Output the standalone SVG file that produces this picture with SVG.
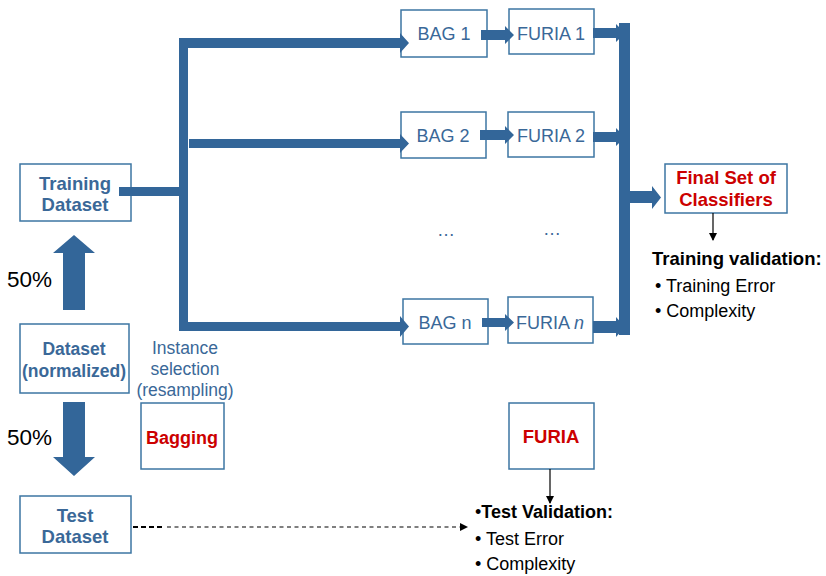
<svg xmlns="http://www.w3.org/2000/svg" width="826" height="576" viewBox="0 0 826 576">
  <style>
    .box { fill: #ffffff; stroke: #3c76a3; stroke-width: 1.5; }
    .bar { fill: #336699; }
    .t { font-family: "Liberation Sans", Arial, sans-serif; font-size: 18px; }
    .blue { fill: #3a6898; }
    .bb { fill: #3a6898; font-weight: bold; font-size: 18.5px; }
    .red { fill: #cc0000; font-weight: bold; }
    .blk { fill: #000000; }
    .bold { font-weight: bold; }
    .mid { text-anchor: middle; }
  </style>
  <defs>
    <marker id="tri" markerWidth="8" markerHeight="8" refX="7" refY="4" orient="auto" markerUnits="userSpaceOnUse">
      <path d="M0,0 L8,4 L0,8 Z" fill="#000"/>
    </marker>
  </defs>

  <!-- data sets -->
  <g id="training">
    <rect class="box" x="20" y="164" width="111" height="57"/>
    <text class="t bb mid" x="75" y="190">Training</text>
    <text class="t bb mid" x="75" y="211">Dataset</text>
  </g>
  <g id="dataset">
    <rect class="box" x="20" y="324" width="109" height="69"/>
    <text class="t bb mid" x="74" y="355" style="font-size:17.5px">Dataset</text>
    <text class="t bb mid" x="74" y="377" style="font-size:17.5px">(normalized)</text>
  </g>
  <g id="test">
    <rect class="box" x="20" y="496" width="111" height="57"/>
    <text class="t bb mid" x="75" y="522">Test</text>
    <text class="t bb mid" x="75" y="543">Dataset</text>
  </g>

  <!-- split labels -->
  <g id="split-labels">
    <text class="t blk" x="7" y="287" style="font-size:22.5px">50%</text>
    <text class="t blk" x="7" y="445" style="font-size:22.5px">50%</text>
  </g>

  <!-- sampling step -->
  <g id="instance-selection">
    <text class="t blue mid" x="185" y="354" style="font-size:17.5px">Instance</text>
    <text class="t blue mid" x="185" y="375" style="font-size:17.5px">selection</text>
    <text class="t blue mid" x="185" y="396" style="font-size:17.5px">(resampling)</text>
  </g>
  <g id="bagging">
    <rect class="box" x="141" y="403" width="83" height="66"/>
    <text class="t red mid" x="182" y="444">Bagging</text>
  </g>

  <!-- bags -->
  <g id="bag1">
    <rect class="box" x="401" y="10" width="86" height="47"/>
    <text class="t blue mid" x="444" y="40">BAG 1</text>
  </g>
  <g id="bag2">
    <rect class="box" x="401" y="112" width="85" height="46"/>
    <text class="t blue mid" x="443" y="142">BAG 2</text>
  </g>
  <g id="bagn">
    <rect class="box" x="403" y="299" width="85" height="45"/>
    <text class="t blue mid" x="445" y="329">BAG n</text>
  </g>

  <!-- rule learners -->
  <g id="furia1">
    <rect class="box" x="509" y="9" width="85" height="45"/>
    <text class="t blue mid" x="551" y="40">FURIA 1</text>
  </g>
  <g id="furia2">
    <rect class="box" x="508" y="112" width="86" height="45"/>
    <text class="t blue mid" x="551" y="142">FURIA 2</text>
  </g>
  <g id="furian">
    <rect class="box" x="508" y="297" width="85" height="46"/>
    <text class="t blue mid" x="550" y="329">FURIA <tspan font-style="italic">n</tspan></text>
  </g>

  <g id="ellipsis">
    <text class="t blue mid" x="446" y="236">…</text>
    <text class="t blue mid" x="552" y="235">…</text>
  </g>

  <!-- ensemble result -->
  <g id="final-set">
    <rect class="box" x="665" y="164" width="122" height="49"/>
    <text class="t red mid" x="726" y="184" style="font-size:18.5px">Final Set of</text>
    <text class="t red mid" x="726" y="206" style="font-size:18.5px">Classifiers</text>
  </g>
  <g id="training-validation">
    <text class="t blk bold" x="652" y="265" style="font-size:18.5px">Training validation:</text>
    <text class="t blk" x="655" y="292">• Training Error</text>
    <text class="t blk" x="655" y="317">• Complexity</text>
  </g>

  <g id="furia">
    <rect class="box" x="509" y="403" width="85" height="66"/>
    <text class="t red mid" x="551" y="443" style="font-size:18.5px">FURIA</text>
  </g>
  <g id="test-validation">
    <text class="t blk" x="475" y="518">•<tspan font-weight="bold">Test Validation:</tspan></text>
    <text class="t blk" x="475" y="545">• Test Error</text>
    <text class="t blk" x="475" y="570">• Complexity</text>
  </g>

  <!-- connectors -->
  <g id="connectors">
    <!-- 50% split arrows -->
    <polygon class="bar" points="63,310 63,253 53,253 74,235 95,253 85,253 85,310"/>
    <polygon class="bar" points="63,402 63,457 53,457 74,476 95,457 85,457 85,402"/>

    <!-- fan-out to bags -->
    <rect class="bar" x="119" y="187" width="62" height="9"/>
    <rect class="bar" x="179" y="38" width="9" height="293"/>
    <polygon class="bar" points="179,38 400,38 400,33 409,43 400,53 400,48 179,48"/>
    <polygon class="bar" points="189,139 400,139 400,134 409,143.5 400,153 400,148 189,148"/>
    <polygon class="bar" points="179,322 400,322 400,316 409,326.5 400,337 400,331 179,331"/>

    <!-- bag to learner -->
    <polygon class="bar" points="481,30 505,30 505,26 514,35 505,44 505,40 481,40"/>
    <polygon class="bar" points="480,130 505,130 505,126 514,135 505,144 505,140 480,140"/>
    <polygon class="bar" points="482,318 505,318 505,314 514,322.5 505,331 505,327 482,327"/>

    <!-- learners to collector -->
    <polygon class="bar" points="593,28 616,28 616,24 625,33 616,42 616,38 593,38"/>
    <polygon class="bar" points="593,132 616,132 616,128 625,137 616,146 616,142 593,142"/>
    <polygon class="bar" points="593,321 616,321 616,317 625,327 616,337 616,333 593,333"/>
    <rect class="bar" x="619" y="23" width="11" height="312"/>
    <polygon class="bar" points="629,191 652,191 652,186 661,197.5 652,209 652,203 629,203"/>

    <!-- validation pointers -->
    <line x1="713" y1="213" x2="713" y2="240" stroke="#000" stroke-width="1.2" marker-end="url(#tri)"/>
    <line x1="550" y1="469" x2="550" y2="503" stroke="#000" stroke-width="1.2" marker-end="url(#tri)"/>

    <!-- test set to validation -->
    <line x1="133" y1="527" x2="165" y2="527" stroke="#000" stroke-width="2.2" stroke-dasharray="5,3"/>
    <line x1="167" y1="527" x2="467" y2="527" stroke="#000" stroke-width="1.2" stroke-dasharray="4,3.5" marker-end="url(#tri)"/>
  </g>
</svg>
